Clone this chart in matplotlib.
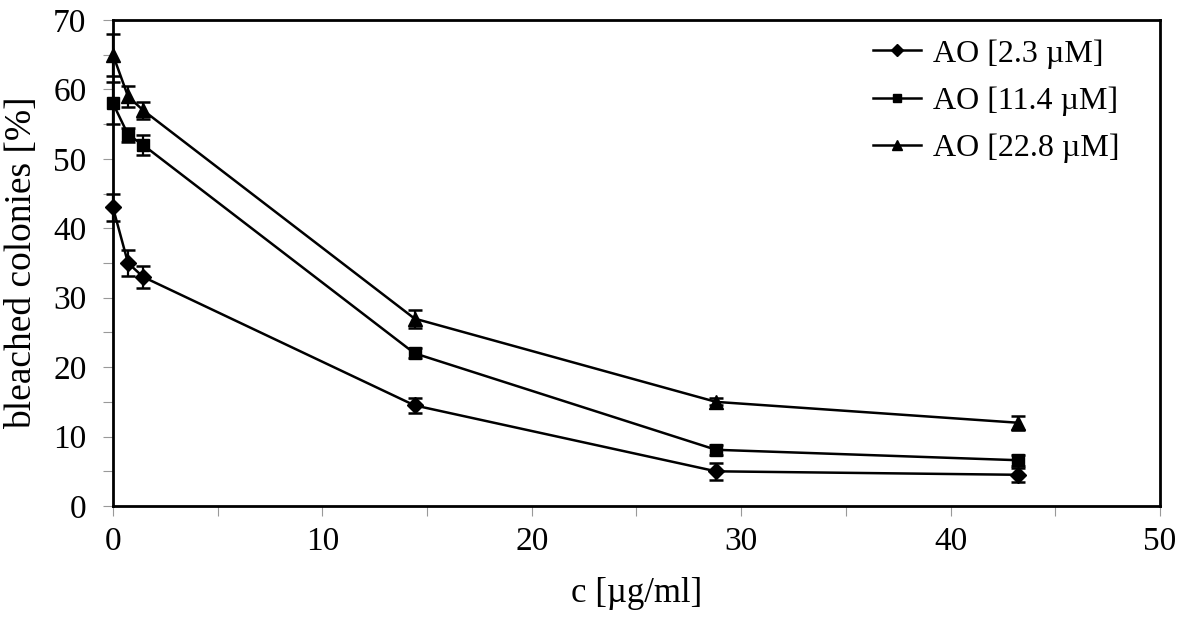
import matplotlib
matplotlib.use('Agg')
import matplotlib.pyplot as plt
from matplotlib.ticker import MultipleLocator
from matplotlib.lines import Line2D

plt.rcParams['font.family'] = ['Liberation Serif', 'DejaVu Serif']

conc = [0, 0.72, 1.44, 14.4, 28.8, 43.2]

ao_low = [43, 35, 33, 14.5, 5, 4.5]
ao_low_err = [2, 1.9, 1.6, 1.1, 1.2, 1.0]
ao_mid = [58, 53.5, 52, 22, 8.1, 6.6]
ao_mid_err = [3, 1.0, 1.5, 0.7, 0.7, 0.8]
ao_high = [65, 59, 57, 27, 15, 12]
ao_high_err = [3, 1.5, 1.2, 1.3, 0.5, 1.0]

labels = ['AO [2.3 µM]', 'AO [11.4 µM]', 'AO [22.8 µM]']
markers = ['D', 's', '^']
sizes = [8, 8.5, 10]

fig = plt.figure(figsize=(11.99, 6.29), dpi=100)
ax = fig.add_axes([0.0942, 0.1955, 0.8733, 0.7727])

series = [(ao_low, ao_low_err), (ao_mid, ao_mid_err), (ao_high, ao_high_err)]
handles = []
for (vals, errs), lab, m, ms in zip(series, labels, markers, sizes):
    ax.errorbar(conc, vals, yerr=errs, color='black', linewidth=1.8,
                marker=m, markersize=ms, elinewidth=1.6, capsize=5,
                capthick=1.8, clip_on=False, zorder=3)
    handles.append(Line2D([], [], color='black', linewidth=1.8, marker=m,
                          markersize=ms * 0.75, label=lab))

ax.set_xlim(0, 50)
ax.set_ylim(0, 70)
ax.xaxis.set_major_locator(MultipleLocator(10))
ax.xaxis.set_minor_locator(MultipleLocator(5))
ax.yaxis.set_major_locator(MultipleLocator(10))
ax.yaxis.set_minor_locator(MultipleLocator(5))

for s in ax.spines.values():
    s.set_linewidth(2)

ax.tick_params(which='both', direction='out', color='#999999', width=0.8)
ax.tick_params(axis='y', which='both', length=7, labelsize=24, pad=12)
ax.tick_params(axis='x', which='both', length=7, labelsize=24, pad=8)

ax.set_xlabel('c [µg/ml]', fontsize=25, labelpad=14)
ax.set_ylabel('bleached colonies [%]', fontsize=27, labelpad=10)

ax.legend(handles=handles, loc='upper right', frameon=False, fontsize=23,
          handlelength=1.5, handletextpad=0.4, labelspacing=0.55,
          borderaxespad=0.2, bbox_to_anchor=(0.98, 1.0))

fig.savefig('out.png', dpi=100)
